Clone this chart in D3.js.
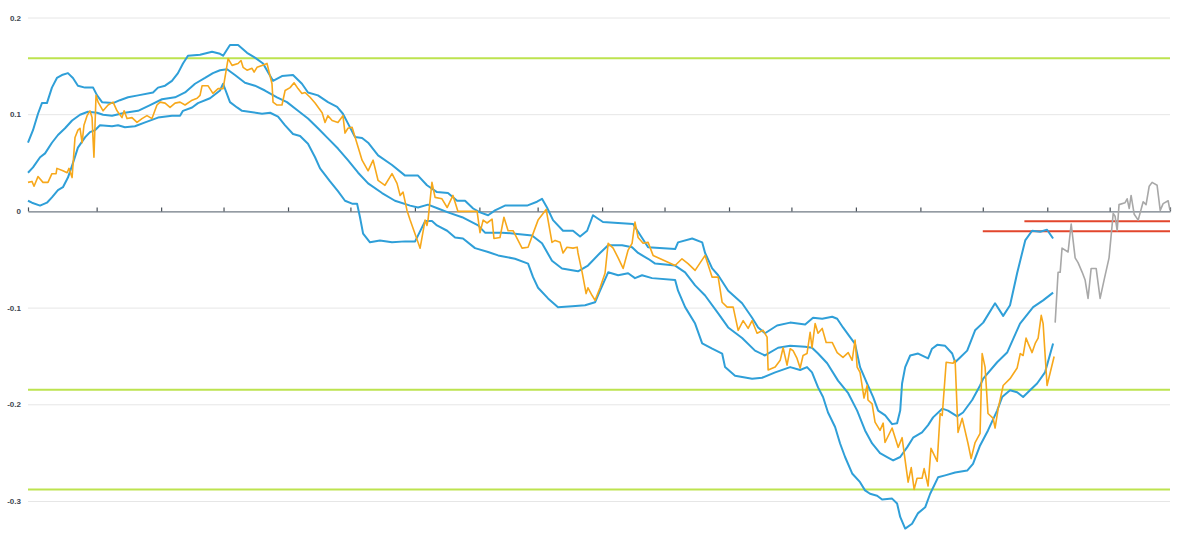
<!DOCTYPE html>
<html>
<head>
<meta charset="utf-8">
<script src="https://cdn.jsdelivr.net/npm/d3@7"></script>
<style>
  html, body { margin: 0; padding: 0; background: #fff; }
  svg { display: block; }
  .ylab { font-family: "Liberation Sans", Arial, sans-serif; font-size: 8px; fill: #3d4650; font-weight: bold; }
</style>
</head>
<body>
<svg id="chart" width="1185" height="556"></svg>
<script>
// ---------- DATA (x = days since 2018-06-29, y = value) ----------
const startDate = "2018-06-29";
const spanDays = 549;
const yTicks = [0.2, 0.1, 0, -0.1, -0.2, -0.3];
const yTickLabels = ["0.2", "0.1", "0", "-0.1", "-0.2", "-0.3"];

const upperBand = [[0,0.071],[2.4,0.084],[4.8,0.101],[6.7,0.112],[9.1,0.112],[11.5,0.128],[13.9,0.138],[16.3,0.141],[19.2,0.143],[21.6,0.138],[24,0.130],[27.4,0.128],[31.3,0.128],[33.2,0.120],[35.6,0.113],[40.9,0.112],[44.2,0.115],[48.1,0.118],[52.9,0.120],[60.1,0.123],[62.5,0.128],[65.9,0.130],[69.2,0.135],[72.1,0.143],[74.5,0.153],[76.9,0.161],[82.7,0.162],[88.5,0.165],[92.3,0.163],[93.8,0.161],[97.1,0.172],[101,0.172],[105.3,0.164],[109.1,0.159],[113,0.153],[115.4,0.144],[117.8,0.135],[122.1,0.140],[127.4,0.141],[131.7,0.132],[134.6,0.123],[139.4,0.120],[144.2,0.113],[148.6,0.108],[151.4,0.101],[153.8,0.091],[157.2,0.077],[160.6,0.076],[163.5,0.071],[168.3,0.058],[175,0.048],[181.3,0.037],[187.5,0.037],[191.8,0.027],[196.6,0.020],[201.9,0.019],[206.3,0.011],[210.1,0.011],[214,0.003],[217.3,-0.001],[221.2,-0.004],[224.5,0.001],[229.3,0.006],[239.9,0.006],[244.7,0.010],[247.1,0.013],[249.5,0.004],[252.4,-0.009],[257.2,-0.020],[262,-0.020],[265.4,-0.026],[268.8,-0.020],[271.6,-0.004],[276.4,-0.011],[290.9,-0.013],[298.1,-0.037],[311.1,-0.039],[312.5,-0.032],[319.3,-0.028],[324.1,-0.032],[325.5,-0.043],[328.9,-0.059],[331.8,-0.066],[336.6,-0.082],[343.3,-0.095],[348.1,-0.110],[351,-0.120],[354.3,-0.126],[360.1,-0.118],[366.4,-0.115],[373.6,-0.117],[377.4,-0.110],[381.8,-0.111],[386.6,-0.109],[389,-0.111],[391.8,-0.120],[395.2,-0.130],[397.6,-0.137],[400,-0.161],[403.4,-0.178],[406.3,-0.192],[408.7,-0.206],[412.1,-0.211],[415.4,-0.220],[417.8,-0.219],[419.3,-0.206],[420.2,-0.178],[421.7,-0.161],[424.1,-0.149],[427.9,-0.147],[432.7,-0.152],[434.6,-0.142],[437.1,-0.138],[440.9,-0.139],[444.3,-0.147],[445.7,-0.156],[448.1,-0.151],[451.5,-0.144],[455.3,-0.123],[459.2,-0.115],[464.9,-0.095],[468.8,-0.108],[472.1,-0.097],[475.5,-0.064],[479.4,-0.030],[482.7,-0.020],[486.6,-0.021],[489.9,-0.019],[492.8,-0.028]];

const middleBand = [[0,0.040],[2.4,0.0455],[5.8,0.056],[8.2,0.060],[11.5,0.071],[14.4,0.079],[17.8,0.086],[21.2,0.094],[25,0.100],[28.8,0.103],[33.2,0.102],[36.1,0.100],[40.4,0.099],[46.6,0.102],[52.9,0.104],[58.7,0.110],[64.4,0.116],[70.7,0.118],[75.5,0.123],[80.3,0.132],[85.1,0.138],[88.9,0.143],[92.3,0.146],[95.7,0.147],[99.5,0.141],[104.3,0.133],[109.1,0.130],[113.9,0.125],[119.7,0.118],[124.5,0.113],[129.8,0.104],[134.6,0.096],[139.4,0.086],[144.2,0.0755],[149,0.065],[153.8,0.053],[158.7,0.040],[163.5,0.029],[170.2,0.019],[176.4,0.011],[183.7,0.006],[187.5,0.004],[192.3,0.007],[197.1,0.003],[201.9,-0.001],[208.7,-0.006],[216.4,-0.0145],[219.7,-0.022],[227.9,-0.022],[234.1,-0.023],[242.3,-0.025],[247.1,-0.033],[251.9,-0.051],[256.7,-0.059],[264.4,-0.062],[269.2,-0.056],[275,-0.043],[278.9,-0.035],[285.6,-0.035],[290.4,-0.037],[293.3,-0.043],[298.1,-0.049],[301.5,-0.054],[311.1,-0.056],[315.9,-0.063],[320.7,-0.0765],[325.5,-0.087],[331.8,-0.1055],[336.6,-0.120],[343.3,-0.131],[349.5,-0.144],[354.3,-0.149],[360.6,-0.141],[366.4,-0.139],[373.6,-0.140],[376.9,-0.141],[379.8,-0.147],[384.2,-0.157],[389.4,-0.175],[394.3,-0.188],[398.6,-0.206],[402.4,-0.2265],[405.8,-0.240],[409.6,-0.250],[413,-0.254],[415.9,-0.2575],[419.3,-0.254],[422.6,-0.244],[425.5,-0.234],[429.8,-0.2285],[432.7,-0.221],[435.1,-0.213],[439.5,-0.204],[442.3,-0.206],[446.7,-0.212],[449.5,-0.208],[453.9,-0.195],[457.7,-0.180],[459.2,-0.173],[465.9,-0.156],[470.7,-0.146],[476.9,-0.116],[483.2,-0.099],[488,-0.092],[492.8,-0.084]];

const lowerBand = [[0,0.011],[1.9,0.009],[5.8,0.006],[9.1,0.009],[11.5,0.0145],[14.4,0.022],[16.8,0.025],[19.2,0.035],[21.6,0.050],[24,0.066],[27.4,0.0765],[29.8,0.082],[32.2,0.084],[34.6,0.089],[40.4,0.088],[43.3,0.089],[46.6,0.087],[51.4,0.088],[56.3,0.092],[62.5,0.097],[69.2,0.099],[73.1,0.099],[74.5,0.104],[78.9,0.1075],[81.7,0.112],[87.5,0.117],[92.3,0.125],[93.8,0.132],[97.1,0.113],[100.5,0.1075],[102.9,0.104],[112.5,0.101],[116.4,0.102],[120.2,0.098],[123.6,0.089],[127.4,0.080],[130.8,0.078],[134.6,0.070],[138,0.056],[140.4,0.0445],[145.2,0.031],[149,0.021],[152.4,0.011],[155.8,0.008],[158.2,0.008],[159.6,-0.006],[161.1,-0.023],[164.4,-0.032],[169.2,-0.030],[175,-0.032],[181.3,-0.031],[186.1,-0.031],[190.9,-0.010],[194.2,-0.010],[196.6,-0.0145],[201.5,-0.020],[205.3,-0.027],[209.1,-0.028],[214.9,-0.038],[221.2,-0.042],[226,-0.0455],[234.1,-0.049],[240.4,-0.054],[242.8,-0.068],[245.2,-0.079],[250,-0.090],[254.8,-0.099],[261.6,-0.098],[267.8,-0.097],[272.6,-0.094],[275,-0.082],[278.9,-0.063],[283.7,-0.066],[288.5,-0.064],[291.8,-0.069],[295.2,-0.066],[300,-0.069],[311.1,-0.071],[312.5,-0.082],[315.9,-0.099],[320.7,-0.116],[324.1,-0.1365],[328.9,-0.142],[333.7,-0.147],[335.1,-0.161],[339.9,-0.170],[348.1,-0.173],[352.9,-0.172],[359.2,-0.1665],[366.4,-0.161],[371.2,-0.164],[374.5,-0.161],[376.9,-0.1665],[379.8,-0.182],[382.2,-0.192],[384.6,-0.208],[388,-0.223],[390.4,-0.240],[392.8,-0.254],[396.2,-0.271],[400,-0.280],[402.4,-0.2885],[404.8,-0.292],[408.2,-0.294],[410.6,-0.298],[415.4,-0.297],[417.8,-0.302],[419.3,-0.316],[421.7,-0.328],[425,-0.323],[427.9,-0.312],[431.3,-0.306],[433.7,-0.292],[437.5,-0.275],[440.9,-0.273],[445.7,-0.270],[451.5,-0.268],[454.3,-0.261],[457.7,-0.242],[461.5,-0.2265],[465.9,-0.206],[468.3,-0.192],[472.1,-0.185],[475.5,-0.187],[478.4,-0.192],[481.7,-0.185],[485.1,-0.178],[488.9,-0.1665],[492.8,-0.1365]];

const spreadSeries = [[0,0.030],[1.9,0.031],[2.9,0.026],[4.8,0.036],[7.2,0.030],[9.6,0.030],[11.5,0.039],[13.5,0.039],[13.9,0.0445],[16.8,0.042],[18.8,0.040],[19.7,0.0445],[21.2,0.035],[22.6,0.0765],[24,0.084],[25,0.086],[26,0.071],[26.9,0.089],[28.4,0.099],[29.8,0.104],[30.8,0.097],[31.3,0.073],[31.7,0.056],[32.7,0.120],[33.7,0.113],[36.1,0.104],[38.5,0.110],[40.9,0.113],[42.8,0.104],[45.2,0.097],[46.2,0.104],[47.6,0.096],[50,0.097],[52.4,0.092],[54.8,0.096],[57.2,0.099],[59.6,0.096],[62,0.110],[63.5,0.113],[65.9,0.112],[68.3,0.1075],[70.7,0.112],[73.1,0.113],[75.5,0.110],[78.9,0.115],[81.3,0.117],[82.7,0.120],[83.7,0.130],[86.5,0.130],[88.9,0.122],[91.4,0.127],[93.8,0.127],[96.2,0.158],[98.1,0.151],[101,0.153],[102.4,0.156],[103.4,0.149],[105.3,0.146],[107.7,0.148],[108.7,0.144],[110.1,0.149],[112.5,0.151],[114.9,0.153],[117.3,0.132],[117.8,0.113],[119.7,0.110],[122.1,0.110],[123.6,0.125],[126,0.128],[127.9,0.133],[129.8,0.127],[131.7,0.122],[133.2,0.123],[135.6,0.118],[138,0.112],[141.4,0.102],[142.8,0.092],[144.2,0.099],[146.2,0.094],[149,0.092],[151.4,0.099],[152.4,0.081],[153.8,0.086],[155.8,0.087],[158.2,0.070],[160.6,0.053],[163.5,0.042],[165.9,0.053],[168.3,0.032],[171.6,0.027],[175,0.039],[177.4,0.029],[178.9,0.0165],[180.3,0.020],[182.2,0.001],[183.7,-0.009],[188.5,-0.038],[190.9,-0.009],[191.8,-0.0145],[192.3,-0.009],[194.2,0.030],[195.7,0.0145],[199,0.013],[201.5,0.004],[204.3,0.0165],[206.7,0],[215.9,0],[217.3,-0.022],[218.8,-0.009],[220.7,-0.012],[223.1,-0.008],[224,-0.028],[226.9,-0.027],[228.8,-0.006],[230.8,-0.020],[233.2,-0.020],[237.5,-0.038],[240.4,-0.037],[242.8,-0.023],[245.2,-0.009],[249.1,0.002],[251.9,-0.032],[253.4,-0.030],[255.8,-0.032],[257.2,-0.043],[259.1,-0.037],[262,-0.038],[264,-0.037],[264.4,-0.043],[266.4,-0.063],[268.3,-0.085],[269.2,-0.079],[271.2,-0.087],[272.6,-0.092],[275,-0.079],[277.4,-0.064],[278.9,-0.033],[281.3,-0.038],[283.7,-0.048],[286.1,-0.059],[288.5,-0.040],[290.4,-0.033],[291.8,-0.011],[293.3,-0.027],[295.7,-0.033],[298.1,-0.032],[300.5,-0.0455],[311.1,-0.056],[314.4,-0.049],[317.3,-0.054],[320.7,-0.061],[325.5,-0.0455],[328.9,-0.068],[331.8,-0.068],[333.7,-0.094],[336.1,-0.099],[339,-0.099],[341.4,-0.123],[343.8,-0.113],[346.2,-0.121],[348.1,-0.113],[350.5,-0.126],[353.4,-0.123],[355.3,-0.130],[355.8,-0.164],[359.2,-0.161],[361.6,-0.154],[363,-0.141],[364.9,-0.159],[366.4,-0.142],[367.8,-0.144],[369.7,-0.152],[371.2,-0.162],[372.6,-0.149],[374.5,-0.147],[376,-0.125],[376.9,-0.141],[378.4,-0.116],[379.8,-0.126],[381.8,-0.121],[383.7,-0.1355],[386.6,-0.1355],[389,-0.146],[391.8,-0.151],[394.3,-0.146],[396.2,-0.154],[397.6,-0.133],[398.6,-0.161],[400,-0.1665],[401.9,-0.193],[403.4,-0.180],[403.8,-0.195],[405.8,-0.199],[407.2,-0.218],[409.6,-0.2265],[411.1,-0.219],[412,-0.239],[415.4,-0.224],[418.3,-0.244],[420.2,-0.234],[423.1,-0.280],[424.6,-0.265],[426,-0.2875],[427.4,-0.276],[429.8,-0.276],[430.8,-0.266],[432.7,-0.284],[434.1,-0.245],[437.1,-0.2585],[438.5,-0.209],[439.5,-0.211],[441.4,-0.156],[444.7,-0.157],[445.7,-0.154],[447.1,-0.2285],[449.1,-0.214],[451.9,-0.240],[453.4,-0.2555],[455.3,-0.239],[457.7,-0.2295],[458.7,-0.147],[460.1,-0.161],[461.5,-0.209],[464,-0.214],[464.9,-0.224],[466.4,-0.204],[468.8,-0.180],[472.1,-0.173],[475.5,-0.162],[477,-0.147],[478.4,-0.149],[479.8,-0.131],[480.8,-0.1365],[482.7,-0.146],[484.2,-0.1365],[485.6,-0.131],[487.1,-0.1075],[488,-0.116],[489.9,-0.180],[493.3,-0.150]];

const forecastSeries = [[493.8,-0.115],[495.2,-0.063],[496.2,-0.063],[497.1,-0.038],[500,-0.042],[501.5,-0.013],[503.4,-0.048],[504.8,-0.053],[506.8,-0.063],[508.2,-0.071],[509.6,-0.090],[511.1,-0.059],[513.5,-0.059],[515.4,-0.090],[517.3,-0.071],[519.7,-0.048],[521.7,-0.002],[522.6,-0.005],[523.6,-0.020],[524.5,0.007],[527.4,0.009],[528.4,0.013],[529.4,0.003],[530.3,0.0165],[531.8,-0.003],[533.7,-0.009],[536.1,0.010],[537.5,0.007],[539,0.026],[540.4,0.030],[542.8,0.027],[544.3,0.001],[545.7,0.008],[548.1,0.011],[549,0.001]];

// horizontal reference levels
const greenLevels = [0.1585, -0.1844, -0.2875];
const redLevels = [{ value: -0.0103, fromDay: 479 }, { value: -0.0204, fromDay: 459 }];

// ---------- CHART ----------
const svg = d3.select("#chart");
const t0 = d3.timeParse("%Y-%m-%d")(startDate);
const dayToDate = d => new Date(t0.getTime() + d * 864e5);
const tEnd = dayToDate(spanDays);

const x = d3.scaleTime().domain([t0, tEnd]).range([28, 1170]);
const y = d3.scaleLinear().domain([-0.3, 0.2]).range([501.5, 18]);

// gridlines
svg.append("g").selectAll("line").data(yTicks.filter(v => v !== 0)).join("line")
  .attr("x1", 28).attr("x2", 1170)
  .attr("y1", d => y(d)).attr("y2", d => y(d))
  .attr("stroke", "#e6e6e6").attr("stroke-width", 1);

// y labels
svg.append("g").selectAll("text").data(yTicks).join("text")
  .attr("class", "ylab")
  .attr("x", 21).attr("y", d => y(d))
  .attr("text-anchor", "end").attr("dominant-baseline", "central")
  .text((d, i) => yTickLabels[i]);

// green reference lines
svg.append("g").selectAll("line").data(greenLevels).join("line")
  .attr("x1", 28).attr("x2", 1170)
  .attr("y1", d => y(d)).attr("y2", d => y(d))
  .attr("stroke", "#bde34f").attr("stroke-width", 2);

// red reference lines
svg.append("g").selectAll("line").data(redLevels).join("line")
  .attr("x1", d => x(dayToDate(d.fromDay))).attr("x2", 1170)
  .attr("y1", d => y(d.value)).attr("y2", d => y(d.value))
  .attr("stroke", "#e2462c").attr("stroke-width", 2);

// zero axis
const tickDates = [t0].concat(d3.timeMonth.range(new Date(2018, 7, 1), new Date(2019, 11, 2))).concat([tEnd]);
const xAxis = d3.axisTop(x).tickValues(tickDates).tickSize(4).tickSizeOuter(0).tickFormat("");
const gx = svg.append("g").attr("transform", `translate(0,${y(0)})`).call(xAxis);
gx.select(".domain").attr("stroke", "#717a84").attr("stroke-width", 1.3);
gx.selectAll(".tick line").attr("stroke", "#4a525a").attr("stroke-width", 1.2);

// series
const line = d3.line().x(d => x(dayToDate(d[0]))).y(d => y(d[1]));
const draw = (data, color, w) => svg.append("path").datum(data)
  .attr("fill", "none").attr("stroke", color).attr("stroke-width", w)
  .attr("stroke-linejoin", "round").attr("d", line);

draw(upperBand, "#2f9fd8", 2);
draw(middleBand, "#2f9fd8", 2);
draw(lowerBand, "#2f9fd8", 2);
draw(spreadSeries, "#f7a81b", 1.6);
draw(forecastSeries, "#a8a8a8", 1.6);
</script>
</body>
</html>
